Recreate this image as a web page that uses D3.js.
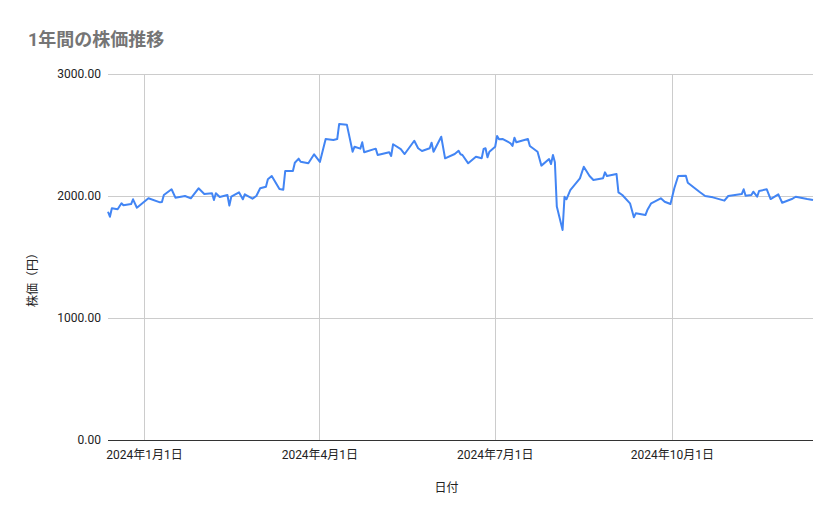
<!DOCTYPE html>
<html><head><meta charset="utf-8">
<script src="https://cdn.jsdelivr.net/npm/d3@7"></script>
<style>
body { margin: 0; background: #fff; }
text { font-family: Roboto, "Noto Sans CJK JP", sans-serif; }
</style></head>
<body>
<svg id="chart" width="839" height="519"></svg>
<script>
var dates = [
  "2023-12-13","2023-12-14","2023-12-15","2023-12-18","2023-12-20","2023-12-21","2023-12-25","2023-12-26","2023-12-28",
  "2024-01-03","2024-01-09","2024-01-10","2024-01-11","2024-01-15","2024-01-17","2024-01-22","2024-01-25","2024-01-29",
  "2024-02-01","2024-02-05","2024-02-06","2024-02-07","2024-02-09","2024-02-13","2024-02-14","2024-02-15","2024-02-19",
  "2024-02-21","2024-02-22","2024-02-26","2024-02-28","2024-03-01","2024-03-04","2024-03-05","2024-03-07","2024-03-11",
  "2024-03-13","2024-03-14","2024-03-18","2024-03-19","2024-03-21","2024-03-22","2024-03-26","2024-03-29","2024-04-01",
  "2024-04-04","2024-04-08","2024-04-10","2024-04-11","2024-04-15","2024-04-18","2024-04-19","2024-04-22","2024-04-23",
  "2024-04-24","2024-04-30","2024-05-01","2024-05-07","2024-05-08","2024-05-09","2024-05-13","2024-05-15","2024-05-20",
  "2024-05-22","2024-05-24","2024-05-28","2024-05-29","2024-05-30","2024-06-03","2024-06-05","2024-06-10","2024-06-12",
  "2024-06-13","2024-06-14","2024-06-17","2024-06-21","2024-06-24","2024-06-25","2024-06-26","2024-06-27","2024-06-28",
  "2024-07-01","2024-07-02","2024-07-03","2024-07-05","2024-07-09","2024-07-10","2024-07-11","2024-07-12","2024-07-18",
  "2024-07-19","2024-07-23","2024-07-25","2024-07-29","2024-07-30","2024-07-31","2024-08-01","2024-08-02","2024-08-05",
  "2024-08-06","2024-08-07","2024-08-09","2024-08-14","2024-08-16","2024-08-19","2024-08-21","2024-08-26","2024-08-27",
  "2024-08-28","2024-09-02","2024-09-03","2024-09-05","2024-09-09","2024-09-11","2024-09-12","2024-09-17","2024-09-18",
  "2024-09-20","2024-09-25","2024-09-27","2024-09-30","2024-10-02","2024-10-04","2024-10-08","2024-10-09","2024-10-15",
  "2024-10-18","2024-10-22","2024-10-28","2024-10-30","2024-11-06","2024-11-07","2024-11-08","2024-11-11","2024-11-12",
  "2024-11-14","2024-11-15","2024-11-19","2024-11-21","2024-11-25","2024-11-27","2024-12-02","2024-12-04","2024-12-10",
  "2024-12-13"
];
var prices = [
  1871,1830,1899,1891,1940,1924,1934,1973,1904,
  1981,1948,1951,2008,2055,1986,2000,1981,2063,
  2016,2022,1967,2022,1992,2008,1921,1994,2030,
  1973,2014,1978,2000,2063,2076,2137,2164,2057,
  2052,2205,2205,2273,2306,2281,2268,2342,2279,
  2467,2459,2467,2590,2585,2363,2404,2388,2440,
  2358,2388,2336,2358,2328,2424,2385,2344,2453,
  2391,2369,2391,2437,2363,2486,2309,2344,2371,
  2342,2336,2268,2322,2309,2385,2391,2317,2363,
  2404,2492,2465,2467,2432,2410,2478,2440,2467,
  2410,2363,2249,2303,2262,2336,2276,1913,1721,
  1994,1973,2049,2145,2240,2164,2131,2145,2194,
  2164,2180,2030,2008,1940,1825,1858,1844,1885,
  1940,1981,1953,1934,2063,2164,2166,2109,2035,
  2000,1989,1962,2000,2016,2055,2003,2008,2035,
  1994,2041,2055,1975,2014,1945,1975,1994,1975,
  1967
];
var yTicks = [0, 1000, 2000, 3000];
var xTicks = ["2024-01-01","2024-04-01","2024-07-01","2024-10-01"];

var parse = d3.timeParse("%Y-%m-%d");
var data = dates.map(function (d, i) { return { date: parse(d), value: prices[i] }; });

var svg = d3.select("#chart");
var plotLeft = 108, plotRight = 813, plotTop = 74, plotBottom = 440;

var x = d3.scaleTime().domain(d3.extent(data, function (d) { return d.date; })).range([plotLeft, plotRight]);
var y = d3.scaleLinear().domain([0, 3000]).range([plotBottom, plotTop]);

svg.append("text").attr("x", 28).attr("y", 46)
    .attr("font-size", 18).attr("fill", "#757575").attr("font-weight", "bold")
    .text("1年間の株価推移");

// horizontal grid
svg.append("g").selectAll("line").data(yTicks).enter().append("line")
    .attr("x1", plotLeft).attr("x2", plotRight)
    .attr("y1", function (d) { return y(d); }).attr("y2", function (d) { return y(d); })
    .attr("stroke", function (d) { return d === 0 ? "#333" : "#ccc"; })
    .attr("stroke-width", 1).attr("shape-rendering", "crispEdges");

// vertical grid
svg.append("g").selectAll("line").data(xTicks).enter().append("line")
    .attr("x1", function (d) { return x(parse(d)); }).attr("x2", function (d) { return x(parse(d)); })
    .attr("y1", plotTop).attr("y2", plotBottom)
    .attr("stroke", "#ccc").attr("shape-rendering", "crispEdges");

svg.append("g").selectAll("text").data(yTicks).enter().append("text")
    .attr("x", plotLeft - 7).attr("y", function (d) { return y(d) + 4; })
    .attr("text-anchor", "end").attr("font-size", 12).attr("fill", "#222")
    .text(function (d) { return d3.format(".2f")(d); });

var fmt = function (d) { var t = parse(d); return t.getFullYear() + "年" + (t.getMonth() + 1) + "月" + t.getDate() + "日"; };
svg.append("g").selectAll("text").data(xTicks).enter().append("text")
    .attr("x", function (d) { return x(parse(d)); }).attr("y", 459)
    .attr("text-anchor", "middle").attr("font-size", 12).attr("fill", "#222")
    .text(fmt);

svg.append("text").attr("x", (plotLeft + plotRight) / 2 - 14).attr("y", 492)
    .attr("text-anchor", "middle").attr("font-size", 12).attr("fill", "#222").text("日付");
svg.append("text").attr("transform", "translate(37," + (y(1500) + 20) + ") rotate(-90)")
    .attr("text-anchor", "middle").attr("font-size", 12).attr("fill", "#222").text("株価（円）");

svg.append("path").datum(data)
    .attr("fill", "none").attr("stroke", "#4285f4").attr("stroke-width", 2)
    .attr("stroke-linejoin", "round")
    .attr("d", d3.line().x(function (d) { return x(d.date); }).y(function (d) { return y(d.value); }));
</script>
</body></html>
